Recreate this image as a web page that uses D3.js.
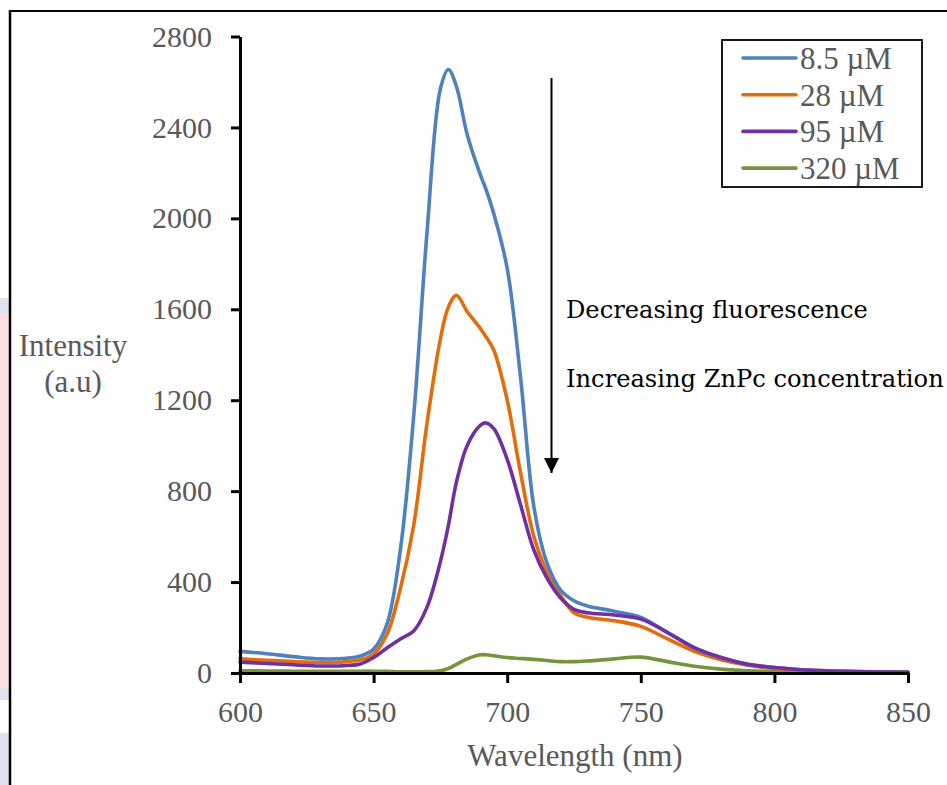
<!DOCTYPE html>
<html>
<head>
<meta charset="utf-8">
<script src="https://cdn.jsdelivr.net/npm/d3@7"></script>
<style>
html, body { margin: 0; padding: 0; background: #ffffff; }
svg { display: block; }
</style>
</head>
<body>
<svg id="chart" width="947" height="785"></svg>
<script>
// ---- data ----
const wavelengths = [600, 610, 620, 630, 640, 645, 650, 655, 660, 665, 670, 675, 678, 681, 685, 690, 692, 695, 700, 705, 710, 715, 720, 725, 730, 740, 750, 760, 770, 780, 790, 800, 810, 820, 835, 850];
const series8_5 = [95, 85, 72, 62, 65, 75, 105, 215, 540, 1130, 1940, 2570, 2655, 2580, 2370, 2190, 2130, 2020, 1780, 1300, 730, 480, 365, 318, 295, 272, 245, 178, 110, 68, 38, 24, 14, 9, 5, 3];
const series28 = [62, 56, 50, 46, 50, 58, 83, 170, 370, 650, 1100, 1470, 1610, 1662, 1590, 1515, 1480, 1420, 1200, 880, 600, 440, 340, 265, 245, 230, 205, 150, 95, 58, 34, 20, 12, 8, 5, 3];
const series95 = [48, 42, 36, 31, 33, 40, 68, 110, 150, 185, 290, 490, 650, 840, 1000, 1090, 1100, 1075, 940, 740, 540, 415, 330, 280, 265, 255, 237, 178, 112, 68, 38, 24, 14, 9, 5, 3];
const series320 = [10, 9, 8, 8, 8, 8, 8, 7, 5, 5, 6, 10, 20, 38, 62, 80, 80, 76, 68, 64, 60, 55, 50, 50, 53, 62, 70, 50, 30, 17, 10, 6, 5, 4, 3, 3];
const seriesNames = ["8.5 \u00B5M", "28 \u00B5M", "95 \u00B5M", "320 \u00B5M"];
const seriesColors = ["#4f81bd", "#e46c0a", "#7030a0", "#77933c"];
const xTicks = [600, 650, 700, 750, 800, 850];
const yTicks = [0, 400, 800, 1200, 1600, 2000, 2400, 2800];
const annotationLines = ["Decreasing fluorescence", "Increasing ZnPc concentration"];

const allSeries = [series8_5, series28, series95, series320];

const svg = d3.select("#chart");
const grey = "#595959";
const serif = "'Liberation Serif', 'Times New Roman', serif";

// left-edge background strip of the page
svg.append("rect").attr("x", 0).attr("y", 298).attr("width", 9).attr("height", 16).attr("fill", "#dfe3ee");
svg.append("rect").attr("x", 0).attr("y", 314).attr("width", 9).attr("height", 374).attr("fill", "#fadfe1");
svg.append("rect").attr("x", 0).attr("y", 688).attr("width", 9).attr("height", 12).attr("fill", "#dfe3ee");
svg.append("rect").attr("x", 0).attr("y", 733).attr("width", 9).attr("height", 52).attr("fill", "#dfe2ec");

// outer frame (top and left)
svg.append("line").attr("x1", 10).attr("x2", 947).attr("y1", 11).attr("y2", 11).attr("stroke", "#000").attr("stroke-width", 2);
svg.append("line").attr("x1", 10).attr("x2", 10).attr("y1", 10).attr("y2", 785).attr("stroke", "#000").attr("stroke-width", 2.5);

const x = d3.scaleLinear().domain([600, 850]).range([240, 908]);
const y = d3.scaleLinear().domain([0, 2800]).range([673, 36.5]);

// series lines
const line = d3.line()
  .x((d, i) => x(wavelengths[i]))
  .y(d => y(d))
  .curve(d3.curveCatmullRom.alpha(0.5));

const plot = svg.append("g");
[3, 1, 0, 2].forEach(k => {
  plot.append("path")
    .datum(allSeries[k])
    .attr("d", line)
    .attr("fill", "none")
    .attr("stroke", seriesColors[k])
    .attr("stroke-width", 3.6)
    .attr("stroke-linejoin", "round")
    .attr("stroke-linecap", "round");
});

// axes
const xAxis = svg.append("g")
  .attr("transform", `translate(0,${y(0)})`)
  .call(d3.axisBottom(x).tickValues(xTicks).tickSize(10).tickSizeOuter(0).tickPadding(18).tickFormat(d3.format("d")));
const yAxis = svg.append("g")
  .attr("transform", `translate(${x(600)},0)`)
  .call(d3.axisLeft(y).tickValues(yTicks).tickSize(9).tickSizeOuter(0).tickPadding(19).tickFormat(d3.format("d")));

[xAxis, yAxis].forEach(g => {
  g.select(".domain").attr("stroke", "#000").attr("stroke-width", 3);
  g.selectAll(".tick line").attr("stroke", "#000").attr("stroke-width", 3);
  g.selectAll(".tick text").attr("fill", grey).style("font-family", serif).style("font-size", "30px");
});

// axis titles
svg.append("text").attr("x", 73).attr("y", 356).attr("text-anchor", "middle")
  .attr("fill", grey).style("font-family", serif).style("font-size", "31px").text("Intensity");
svg.append("text").attr("x", 73).attr("y", 392).attr("text-anchor", "middle")
  .attr("fill", grey).style("font-family", serif).style("font-size", "31px").text("(a.u)");
svg.append("text").attr("x", 575).attr("y", 766).attr("text-anchor", "middle")
  .attr("fill", grey).style("font-family", serif).style("font-size", "31px").text("Wavelength (nm)");

// legend
const legend = svg.append("g");
legend.append("rect").attr("x", 722).attr("y", 40).attr("width", 200).attr("height", 147)
  .attr("fill", "#fff").attr("stroke", "#000").attr("stroke-width", 1.8);
seriesNames.forEach((name, i) => {
  const ly = 58 + i * 36.7;
  legend.append("line").attr("x1", 743).attr("x2", 796).attr("y1", ly).attr("y2", ly)
    .attr("stroke", seriesColors[i]).attr("stroke-width", 3.6).attr("stroke-linecap", "round");
  legend.append("text").attr("x", 800).attr("y", ly).attr("dy", "0.35em")
    .attr("fill", grey).style("font-family", serif).style("font-size", "31px").text(name);
});

// annotation arrow
svg.append("defs").append("marker")
  .attr("id", "arrowhead").attr("viewBox", "0 0 10 10").attr("refX", 10).attr("refY", 5)
  .attr("markerWidth", 15).attr("markerHeight", 15).attr("markerUnits", "userSpaceOnUse")
  .attr("orient", "auto")
  .append("path").attr("d", "M0,0 L10,5 L0,10 Z").attr("fill", "#000");
svg.append("line").attr("x1", 551.5).attr("x2", 551.5).attr("y1", 78).attr("y2", 473)
  .attr("stroke", "#000").attr("stroke-width", 2).attr("marker-end", "url(#arrowhead)");

const annFont = "'DejaVu Serif', serif";
const annBase = [318, 387];
annotationLines.forEach((t, i) => {
  const txt = svg.append("text").attr("x", 566).attr("y", annBase[i])
    .attr("fill", "#000").style("font-family", annFont).style("font-size", "24px").text(t);
  if (i === 0) {
    const w = txt.node().getComputedTextLength();
    window.__annSize = 24 * 302 / w;
  }
});
svg.selectAll("text").filter(function() { return this.style.fontFamily.indexOf("DejaVu") >= 0; })
  .style("font-size", window.__annSize + "px");
</script>
</body>
</html>
